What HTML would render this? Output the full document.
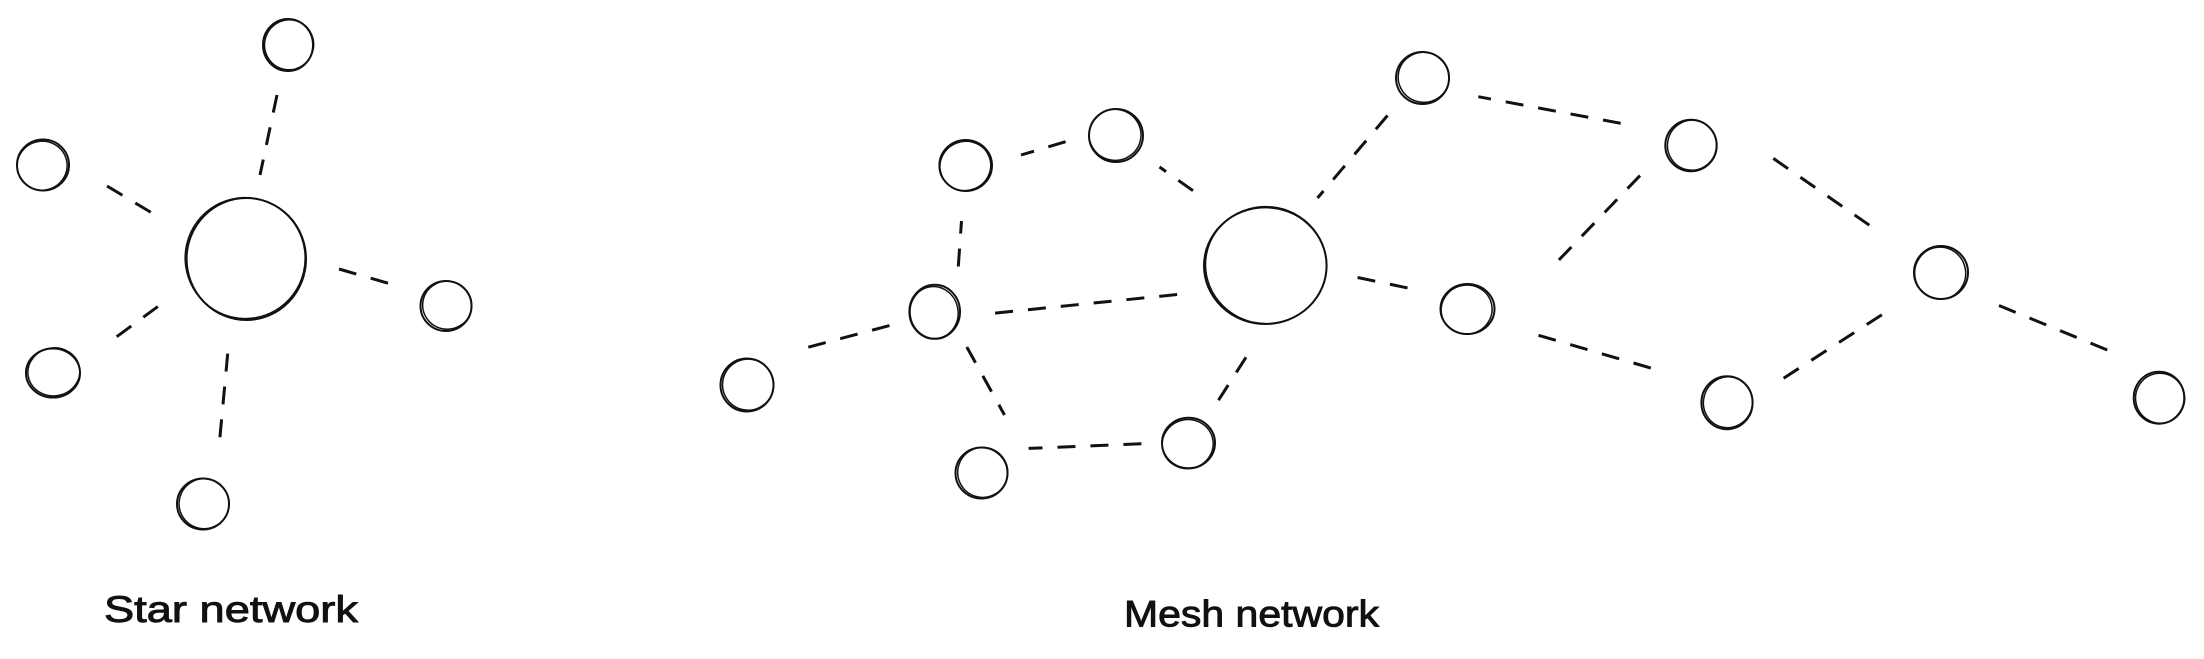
<!DOCTYPE html>
<html>
<head>
<meta charset="utf-8">
<style>
  html, body { margin: 0; padding: 0; background: #ffffff; }
  body { width: 2204px; height: 659px; overflow: hidden; }
  svg { display: block; }
  .n { fill: none; stroke: #111; stroke-width: 2.0; }
  .n2 { fill: none; stroke: #111; stroke-width: 1.5; }
  .d { fill: none; stroke: #111; stroke-width: 3.0; stroke-dasharray: 18 15; stroke-linecap: butt; }
  text { font-family: "Liberation Sans", sans-serif; fill: #111; stroke: #111; stroke-width: 0.9; }
</style>
</head>
<body>
<svg width="2204" height="659" viewBox="0 0 2204 659" xmlns="http://www.w3.org/2000/svg">
  <rect x="0" y="0" width="2204" height="659" fill="#ffffff"/>

  <!-- ===== STAR NETWORK ===== -->
  <line class="d" x1="277" y1="95" x2="260" y2="175"/>
  <line class="d" x1="107" y1="186" x2="152" y2="213"/>
  <line class="d" x1="339" y1="269" x2="389" y2="283.5"/>
  <line class="d" x1="116.7" y1="336.7" x2="159.3" y2="305.5"/>
  <line class="d" x1="227.7" y1="353.6" x2="219.7" y2="439.7"/>

  <ellipse class="n" cx="246.3" cy="259" rx="59.7" ry="61"/>
  <ellipse class="n2" cx="245.3" cy="258" rx="60" ry="60.5" transform="rotate(-8 246 259)"/>

  <ellipse class="n" cx="288" cy="45" rx="25" ry="26"/>
  <ellipse class="n2" cx="289" cy="44.5" rx="24.5" ry="25" transform="rotate(15 288 45)"/>

  <ellipse class="n" cx="43" cy="165" rx="26" ry="25.5"/>
  <ellipse class="n2" cx="42" cy="165.5" rx="25" ry="24.5" transform="rotate(-12 43 165)"/>

  <ellipse class="n" cx="446" cy="306" rx="25.5" ry="25"/>
  <ellipse class="n2" cx="447" cy="305" rx="24.5" ry="24" transform="rotate(10 446 306)"/>

  <ellipse class="n" cx="53" cy="373" rx="27" ry="24.5"/>
  <ellipse class="n2" cx="54" cy="372" rx="26" ry="24" transform="rotate(-8 53 373)"/>

  <ellipse class="n" cx="203" cy="504" rx="26" ry="25.5"/>
  <ellipse class="n2" cx="204" cy="503.5" rx="25" ry="25" transform="rotate(12 203 504)"/>

  <text x="104" y="622" font-size="37" textLength="254" lengthAdjust="spacingAndGlyphs">Star network</text>

  <!-- ===== MESH NETWORK ===== -->
  <line class="d" x1="808.3" y1="347.2" x2="891.5" y2="325"/>
  <line class="d" x1="1065.6" y1="141.7" x2="1021" y2="155"/>
  <line class="d" x1="1193" y1="190.7" x2="1159.5" y2="167"/>
  <line class="d" x1="958.3" y1="266.5" x2="961.5" y2="221"/>
  <line class="d" x1="995.1" y1="313.1" x2="1182" y2="294"/>
  <line class="d" x1="966.8" y1="347" x2="1004.5" y2="415"/>
  <line class="d" x1="1141.4" y1="443.8" x2="1028.6" y2="448.4"/>
  <line class="d" x1="1246" y1="357.3" x2="1218.5" y2="400.2"/>
  <line class="d" x1="1387.5" y1="115.5" x2="1317.5" y2="198"/>
  <line class="d" x1="1357.6" y1="277.5" x2="1409.3" y2="288.3"/>
  <line class="d" x1="1620.7" y1="123.3" x2="1478.3" y2="96.7"/>
  <line class="d" x1="1640" y1="175.6" x2="1556.4" y2="262.6"/>
  <line class="d" x1="1773.3" y1="158.4" x2="1871.8" y2="226.9"/>
  <line class="d" x1="1538.5" y1="335.3" x2="1653.8" y2="368.9"/>
  <line class="d" x1="1783.6" y1="378.2" x2="1884.6" y2="313"/>
  <line class="d" x1="1999" y1="305.5" x2="2109.2" y2="350.8"/>

  <ellipse class="n" cx="1265.3" cy="265.7" rx="61.3" ry="58.3"/>
  <ellipse class="n2" cx="1266" cy="265" rx="60.5" ry="58.5" transform="rotate(6 1265 265)"/>

  <ellipse class="n" cx="747" cy="385" rx="26.5" ry="26.5"/>
  <ellipse class="n2" cx="748" cy="384.5" rx="25.5" ry="25.5" transform="rotate(10 747 385)"/>

  <ellipse class="n" cx="965.7" cy="165.5" rx="26.3" ry="25.5"/>
  <ellipse class="n2" cx="965" cy="166" rx="25.5" ry="24.5" transform="rotate(-20 965 165)"/>

  <ellipse class="n" cx="1116" cy="135.5" rx="27" ry="26.5"/>
  <ellipse class="n2" cx="1115" cy="135" rx="26" ry="25.5" transform="rotate(12 1116 135)"/>

  <ellipse class="n" cx="934.7" cy="311.8" rx="25.3" ry="27"/>
  <ellipse class="n2" cx="934" cy="312.5" rx="24" ry="26" transform="rotate(-10 934 312)"/>

  <ellipse class="n" cx="981.5" cy="473" rx="26" ry="25.5"/>
  <ellipse class="n2" cx="982.5" cy="472" rx="25" ry="25" transform="rotate(14 981 473)"/>

  <ellipse class="n" cx="1188.5" cy="443" rx="26.5" ry="25.3"/>
  <ellipse class="n2" cx="1187.5" cy="444" rx="25.5" ry="24.5" transform="rotate(-12 1188 443)"/>

  <ellipse class="n" cx="1422.5" cy="78" rx="26.5" ry="26"/>
  <ellipse class="n2" cx="1423.5" cy="77" rx="25.5" ry="25" transform="rotate(10 1422 78)"/>

  <ellipse class="n" cx="1467.5" cy="309" rx="27" ry="25"/>
  <ellipse class="n2" cx="1466.5" cy="309.5" rx="25.5" ry="24.5" transform="rotate(-15 1467 309)"/>

  <ellipse class="n" cx="1691" cy="145.5" rx="25.7" ry="25.7"/>
  <ellipse class="n2" cx="1692" cy="145" rx="24.5" ry="25" transform="rotate(12 1691 145)"/>

  <ellipse class="n" cx="1941" cy="272.5" rx="27" ry="26.5"/>
  <ellipse class="n2" cx="1940" cy="273" rx="25.5" ry="26" transform="rotate(-10 1941 272)"/>

  <ellipse class="n" cx="1727" cy="402.7" rx="25.6" ry="26.5"/>
  <ellipse class="n2" cx="1728" cy="402" rx="24.5" ry="25.5" transform="rotate(15 1727 402)"/>

  <ellipse class="n" cx="2159" cy="397.7" rx="25.3" ry="26"/>
  <ellipse class="n2" cx="2160" cy="398.5" rx="24.5" ry="25" transform="rotate(-12 2159 398)"/>

  <text x="1124" y="626.5" font-size="37" textLength="255" lengthAdjust="spacingAndGlyphs">Mesh network</text>
</svg>
</body>
</html>
